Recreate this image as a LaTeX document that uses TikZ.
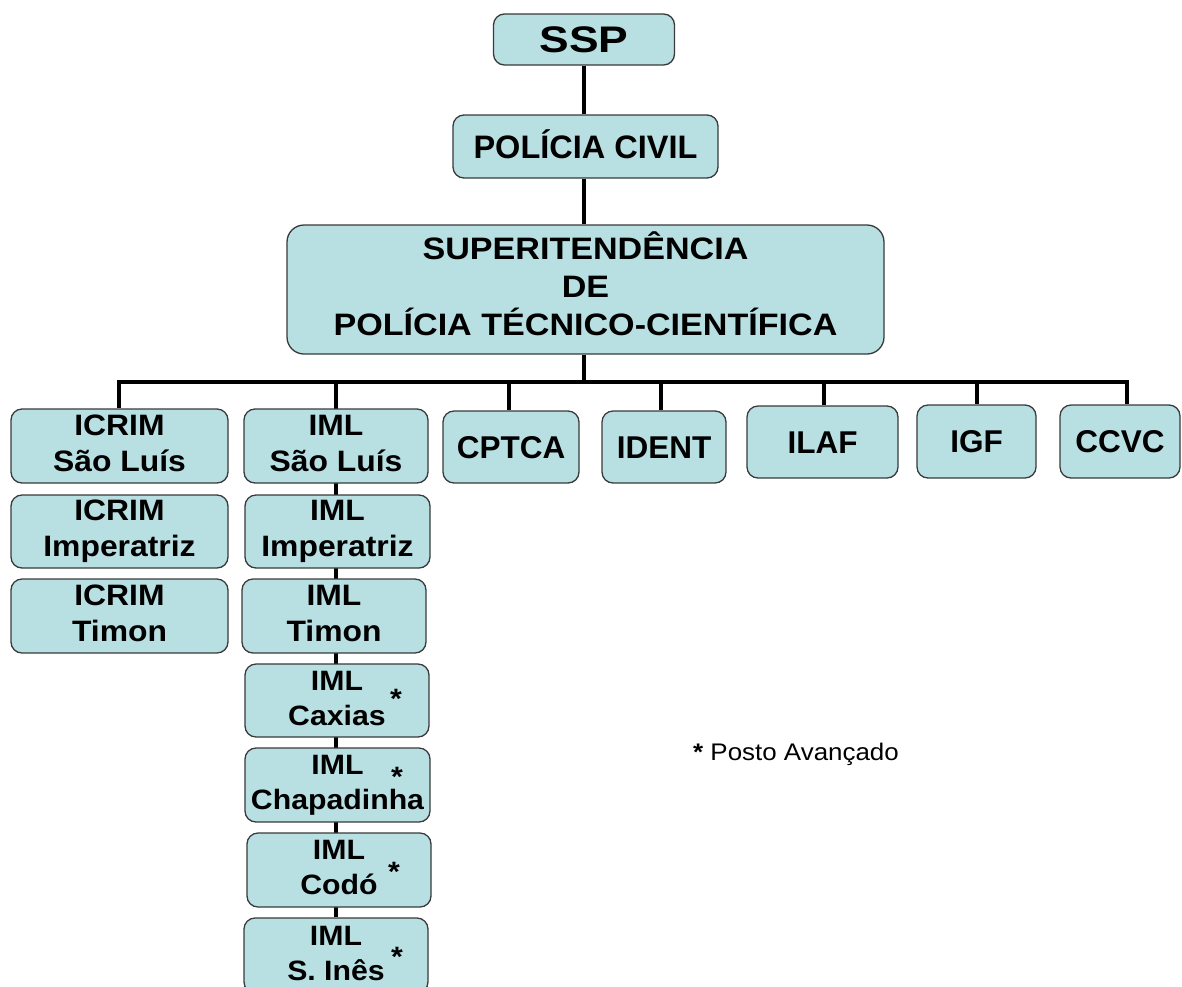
\documentclass[tikz,border=0pt]{standalone}
\usepackage{fontspec}
\setmainfont{Liberation Sans}
\usepackage{graphicx}
\usetikzlibrary{backgrounds}
\definecolor{boxfill}{HTML}{B8DFE2}
\definecolor{boxline}{HTML}{3A3A3A}
\newcommand\boxtext[4]{\raisebox{-3.5pt}{\fontsize{#2}{#3}\selectfont\bfseries\scalebox{#1}[1]{\begin{tabular}{@{}c@{}}#4\end{tabular}}}}
\newcommand\boxline[3]{\fontsize{#2}{#2}\selectfont\bfseries\scalebox{#1}[1]{#3}}
\newcommand\starmark[2]{\rlap{\hspace{#1}\smash{\raisebox{#2}{*}}}}
\tikzset{
  orgbox/.style={draw=boxline, fill=boxfill, line width=1.3pt, rounded corners=11pt, inner sep=0pt, align=center},
  conn/.style={draw=black, line width=3.5pt},
}
\begin{document}
\begin{tikzpicture}[x=1pt,y=-1pt]
\useasboundingbox (0,0) rectangle (1182,986);
% top chain
\node[orgbox, minimum width=181pt, minimum height=51pt, text height=26.5pt, text depth=0pt] (ssp) at (584,39.5) {\boxline{1.2}{37}{SSP}};
\node[orgbox, minimum width=265pt, minimum height=63pt, text height=23.3pt, text depth=0pt] (pc) at (585.5,146.5) {\boxline{1.0}{32.5}{POLÍCIA CIVIL}};
\node[orgbox, minimum width=597pt, minimum height=129pt, rounded corners=17pt] (sup) at (585.5,289.5) {\boxtext{1.1}{31}{37.5}{SUPERITENDÊNCIA\\DE\\POLÍCIA TÉCNICO-CIENTÍFICA}};
% ICRIM column
\node[orgbox, minimum width=217pt, minimum height=74pt] (icrim1) at (119.5,446) {\boxtext{1.08}{29.5}{36}{ICRIM\\São Luís}};
\node[orgbox, minimum width=217pt, minimum height=73pt] (icrim2) at (119.5,531.5) {\boxtext{1.08}{29.5}{36}{ICRIM\\Imperatriz}};
\node[orgbox, minimum width=217pt, minimum height=74pt] (icrim3) at (119.5,616) {\boxtext{1.08}{29.5}{36}{ICRIM\\Timon}};
% IML column
\node[orgbox, minimum width=184pt, minimum height=74pt] (iml1) at (336,446) {\boxtext{1.08}{29.5}{36}{IML\\São Luís}};
\node[orgbox, minimum width=185pt, minimum height=73pt] (iml2) at (337.5,531.5) {\boxtext{1.08}{29.5}{36}{IML\\Imperatriz}};
\node[orgbox, minimum width=184pt, minimum height=74pt] (iml3) at (334,616) {\boxtext{1.08}{29.5}{36}{IML\\Timon}};
\node[orgbox, minimum width=184pt, minimum height=73pt] (iml4) at (337,700.5) {\boxtext{1.08}{28}{35}{IML\starmark{25pt}{-18pt}\\Caxias}};
\node[orgbox, minimum width=185pt, minimum height=74pt] (iml5) at (337.5,785) {\boxtext{1.08}{28}{35}{IML\starmark{25.5pt}{-12pt}\\Chapadinha}};
\node[orgbox, minimum width=184pt, minimum height=74pt] (iml6) at (339,870) {\boxtext{1.08}{28}{35}{IML\starmark{21.3pt}{-22pt}\\Codó}};
\node[orgbox, minimum width=184pt, minimum height=75pt] (iml7) at (336,955.5) {\boxtext{1.08}{28}{35}{IML\starmark{26.9pt}{-21pt}\\S. Inês}};
% other units
\node[orgbox, minimum width=136pt, minimum height=72pt, text height=22.6pt, text depth=0pt] (cptca) at (511,447) {\boxline{1.0}{31.5}{CPTCA}};
\node[orgbox, minimum width=124pt, minimum height=72pt, text height=22.6pt, text depth=0pt] (ident) at (664,447) {\boxline{1.0}{31.5}{IDENT}};
\node[orgbox, minimum width=151pt, minimum height=72pt, text height=22.6pt, text depth=0pt] (ilaf) at (822.5,442) {\boxline{1.0}{31.5}{ILAF}};
\node[orgbox, minimum width=119pt, minimum height=73pt, text height=22.6pt, text depth=0pt] (igf) at (976.5,441.5) {\boxline{1.0}{31.5}{IGF}};
\node[orgbox, minimum width=120pt, minimum height=73pt, text height=22.6pt, text depth=0pt] (ccvc) at (1120,441.5) {\boxline{1.0}{31.5}{CCVC}};
% legend
\node[anchor=base west, inner sep=0pt, font=\fontsize{24}{24}\selectfont] (legend) at (693,760) {\scalebox{1.08}[1]{\textbf{*} Posto Avançado}};
% connectors
\coordinate (dI) at (119,382);
\coordinate (dM) at (336,382);
\coordinate (dC) at (509,382);
\coordinate (dD) at (661,382);
\coordinate (dL) at (824,382);
\coordinate (dG) at (977,382);
\coordinate (dV) at (1127,382);
\coordinate (dS) at (584,382);
\begin{pgfonlayer}{background}
\fill[white] (0,0) rectangle (1182,986);
\draw[conn] (ssp.south -| dS) -- (pc.north -| dS);
\draw[conn] (pc.south -| dS) -- (sup.north -| dS);
\draw[conn] (sup.south -| dS) -- (dS);
\draw[conn] (icrim1.north -| dI) -- (dI) -- (dV) -- (ccvc.north -| dV);
\draw[conn] (dM) -- (iml7.north -| dM);
\draw[conn] (dC) -- (cptca.north -| dC);
\draw[conn] (dD) -- (ident.north -| dD);
\draw[conn] (dL) -- (ilaf.north -| dL);
\draw[conn] (dG) -- (igf.north -| dG);
\end{pgfonlayer}
\end{tikzpicture}
\end{document}
